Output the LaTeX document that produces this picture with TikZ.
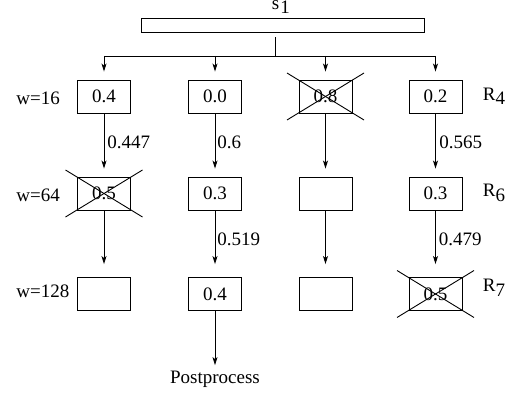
\documentclass[tikz,border=0pt]{standalone}
\usepackage{fontspec}
\setmainfont{Liberation Serif}
\usetikzlibrary{arrows.meta}
\begin{document}
\begin{tikzpicture}[x=1pt, y=-1pt,
  font=\fontsize{19}{22}\selectfont,
  every path/.style={line width=0.9pt},
  cell/.style={draw, line width=0.9pt, minimum width=53pt, minimum height=33pt, inner sep=0pt},
  link/.style={line width=0.9pt, -{Stealth[length=8pt, width=5pt, inset=2pt]}},
  lbl/.style={anchor=base west, inner sep=0pt}]
\useasboundingbox (0,0) rectangle (513,393);

% top bar and its label
\node[draw, line width=0.9pt, minimum width=283pt, minimum height=14pt, inner sep=0pt] (bar) at (282.5,25) {};
\node[lbl] (s1) at (271.5,9.5) {s\kern1pt\raisebox{-4.5pt}{1}};

% grid of boxes: rows r1..r3, columns c1..c4
\node[cell] (r1c1) at (104,96.5) {0.4};
\node[cell] (r1c2) at (215,96.5) {0.0};
\node[cell] (r1c3) at (325.5,96.5) {0.8};
\node[cell] (r1c4) at (435.5,96.5) {0.2};
\node[cell] (r2c1) at (104,193.5) {0.5};
\node[cell] (r2c2) at (215,193.5) {0.3};
\node[cell] (r2c3) at (325.5,193.5) {};
\node[cell] (r2c4) at (435.5,193.5) {0.3};
\node[cell] (r3c1) at (104,294) {};
\node[cell] (r3c2) at (215,294) {0.4};
\node[cell] (r3c3) at (325.5,294) {};
\node[cell] (r3c4) at (435.5,294) {0.5};

% row labels
\node[lbl] (w16) at (16,104) {w=16};
\node[lbl] (w64) at (16,201.5) {w=64};
\node[lbl] (w128) at (16,297) {w=128};
\node[lbl] (R4) at (482.5,100) {R\raisebox{-5pt}{4}};
\node[lbl] (R6) at (482.5,196.5) {R\raisebox{-5pt}{6}};
\node[lbl] (R7) at (482.5,291.5) {R\raisebox{-5pt}{7}};

% fan-out from the bar
\coordinate (split) at (275.7,56);
\coordinate (top) at (275.7,37.5);
\coordinate (t1) at (104,56);
\coordinate (t2) at (215,56);
\coordinate (t3) at (325.5,56);
\coordinate (t4) at (435.5,56);
\draw (top) -- (split);
\draw (t1) -- (t4);
\foreach \c in {1,2,3,4}
  \draw[link, shorten >=8pt] (t\c) -- (r1c\c);

% downward links
\foreach \c in {1,2,3,4}
  \draw[link, shorten >=8pt] (r1c\c) -- (r2c\c);
\foreach \c in {1,2,3,4}
  \draw[link, shorten >=13pt] (r2c\c) -- (r3c\c);

% edge weights
\node[lbl] (e11) at (107,148.3) {0.447};
\node[lbl] (e12) at (217,148.3) {0.6};
\node[lbl] (e14) at (439,148.3) {0.565};
\node[lbl] (e22) at (217,245) {0.519};
\node[lbl] (e24) at (438.5,245) {0.479};

% final step
\node[anchor=base, inner sep=0pt] (post) at (215,383) {Postprocess};
\draw[link, shorten >=5pt] (r3c2) -- (post);

% discarded entries
\foreach \n in {r2c1, r1c3, r3c4} {
  \draw ([shift={(-38.5,-23.5)}]\n.center) -- ([shift={(38.5,23.5)}]\n.center);
  \draw ([shift={(-38.5,23.5)}]\n.center) -- ([shift={(38.5,-23.5)}]\n.center);
}
\end{tikzpicture}
\end{document}
